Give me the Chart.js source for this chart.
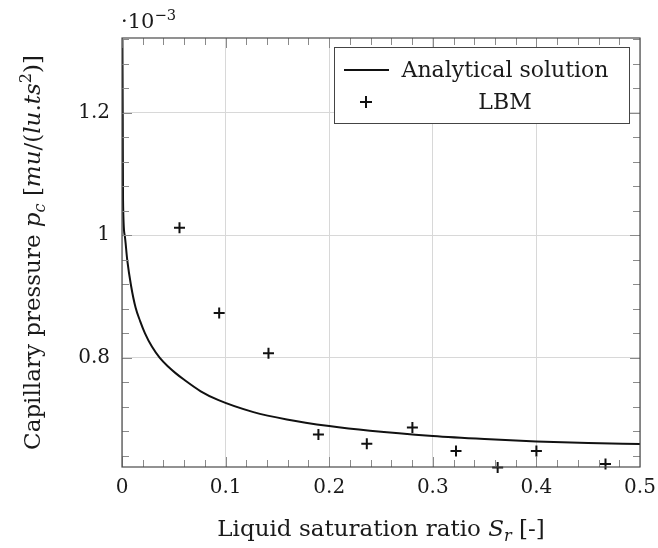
<!DOCTYPE html>
<html>
<head>
<meta charset="utf-8">
<script src="https://cdn.jsdelivr.net/npm/chart.js@4.4.1/dist/chart.umd.min.js"></script>
<style>
  html, body { margin: 0; padding: 0; background: #fff; }
  #wrap { width: 658px; height: 548px; }
</style>
</head>
<body>
<div id="wrap"><canvas id="pcChart" width="658" height="548"></canvas></div>
<script>
// Capillary pressure vs liquid saturation (values in 1e-3 units)

// Analytical solution
const curveX = [0.0004, 0.0007, 0.001, 0.0026, 0.0051, 0.0087, 0.0131, 0.0175, 0.0222, 0.029,
                0.0365, 0.045, 0.0514, 0.0594, 0.076, 0.0932, 0.1269, 0.1591, 0.2, 0.2394,
                0.3, 0.35, 0.4, 0.45, 0.5];
const curveY = [1.32, 1.2, 1.057, 1.0, 0.959, 0.918, 0.882, 0.86, 0.84, 0.818,
                0.800, 0.785, 0.7755, 0.765, 0.7455, 0.731, 0.7115, 0.6995, 0.6887, 0.681,
                0.6725, 0.6675, 0.6635, 0.661, 0.6595];

// LBM simulation results
const lbmX = [0.0555, 0.0938, 0.1414, 0.1896, 0.2363, 0.2803, 0.3224, 0.3626, 0.400, 0.4667];
const lbmY = [1.012, 0.873, 0.8077, 0.675, 0.660, 0.6865, 0.648, 0.621, 0.648, 0.627];

// axis ticks
const xTicks = [0, 0.1, 0.2, 0.3, 0.4, 0.5];
const yTicks = [0.8, 1.0, 1.2];
const xMinorStep = 0.02;
const yMinorStep = 0.04;

const serif = '"DejaVu Serif", "Liberation Serif", serif';
const fmt = v => String(Math.round(v * 10) / 10);

// draw a run of text pieces (normal / italic / sub / sup)
function richWidth(ctx, parts, size) {
    let w = 0;
    parts.forEach(p => {
        const s = p.sub || p.sup ? size * 0.7 : size;
        ctx.font = (p.it ? 'italic ' : '') + s + 'px ' + serif;
        w += ctx.measureText(p.t).width;
    });
    return w;
}
function drawRich(ctx, parts, x, y, size) {
    let cx = x;
    parts.forEach(p => {
        const s = p.sub || p.sup ? size * 0.7 : size;
        ctx.font = (p.it ? 'italic ' : '') + s + 'px ' + serif;
        let dy = 0;
        if (p.sub) dy = size * 0.22;
        if (p.sup) dy = -size * 0.4;
        ctx.fillText(p.t, cx, y + dy);
        cx += ctx.measureText(p.t).width;
    });
}

const xTitle = [
    {t: 'Liquid saturation ratio '}, {t: 'S', it: true}, {t: 'r', it: true, sub: true}, {t: ' [-]'}
];
const yTitle = [
    {t: 'Capillary pressure '}, {t: 'p', it: true}, {t: 'c', it: true, sub: true},
    {t: ' ['}, {t: 'mu', it: true}, {t: '/('}, {t: 'lu', it: true}, {t: '.'},
    {t: 'ts', it: true}, {t: '2', sup: true}, {t: ')]'}
];

const framePlugin = {
    id: 'frame',
    afterDatasetsDraw(chart) {
        const {ctx, chartArea: a, scales: {x, y}} = chart;
        ctx.save();
        // minor + major ticks, inside on all four sides
        ctx.strokeStyle = '#8a8a8a';
        ctx.lineWidth = 1;
        ctx.beginPath();
        for (let i = 0; i < xTicks.length - 1; i++) {
            for (let v = xTicks[i]; v < xTicks[i + 1] - 1e-9; v += xMinorStep) {
                const px = Math.round(x.getPixelForValue(v)) + 0.5;
                const len = Math.abs(v - xTicks[i]) < 1e-9 ? 10 : 7;
                ctx.moveTo(px, a.bottom); ctx.lineTo(px, a.bottom - len);
                ctx.moveTo(px, a.top); ctx.lineTo(px, a.top + len);
            }
        }
        for (let v = yTicks[0] - 4 * yMinorStep; v < y.max; v += yMinorStep) {
            if (v < y.min) continue;
            const py = Math.round(y.getPixelForValue(v)) + 0.5;
            const major = yTicks.some(t => Math.abs(t - v) < 1e-6);
            const len = major ? 10 : 7;
            ctx.moveTo(a.left, py); ctx.lineTo(a.left + len, py);
            ctx.moveTo(a.right, py); ctx.lineTo(a.right - len, py);
        }
        ctx.stroke();
        // axis box
        ctx.strokeStyle = '#4a4a4a';
        ctx.lineWidth = 1.2;
        ctx.strokeRect(a.left, a.top, a.right - a.left, a.bottom - a.top);
        ctx.restore();
    },
    afterDraw(chart) {
        const {ctx, chartArea: a} = chart;
        ctx.save();
        ctx.fillStyle = '#1a1a1a';
        ctx.textBaseline = 'alphabetic';

        // exponent marker
        drawRich(ctx, [{t: '\u00b710'}, {t: '\u22123', sup: true}], a.left - 1, a.top - 10, 21);

        // x title
        const xw = richWidth(ctx, xTitle, 23);
        drawRich(ctx, xTitle, (a.left + a.right) / 2 - xw / 2, 536, 23);

        // y title, rotated
        const yw = richWidth(ctx, yTitle, 23);
        ctx.save();
        ctx.translate(40, (a.top + a.bottom) / 2);
        ctx.rotate(-Math.PI / 2);
        drawRich(ctx, yTitle, -yw / 2, 0, 23);
        ctx.restore();

        // legend
        const lx = a.right - 306, ly = a.top + 9, lw = 295, lh = 76;
        ctx.fillStyle = '#fff';
        ctx.fillRect(lx, ly, lw, lh);
        ctx.strokeStyle = '#444';
        ctx.lineWidth = 1;
        ctx.strokeRect(lx + 0.5, ly + 0.5, lw, lh);
        ctx.strokeStyle = '#111';
        ctx.lineWidth = 2;
        ctx.beginPath();
        ctx.moveTo(lx + 10, ly + 23); ctx.lineTo(lx + 55, ly + 23);
        ctx.moveTo(lx + 32, ly + 49); ctx.lineTo(lx + 32, ly + 61);
        ctx.moveTo(lx + 26, ly + 55); ctx.lineTo(lx + 38, ly + 55);
        ctx.stroke();
        ctx.fillStyle = '#1a1a1a';
        ctx.font = '22px ' + serif;
        ctx.textAlign = 'center';
        ctx.fillText('Analytical solution', lx + 171, ly + 30);
        ctx.fillText('LBM', lx + 171, ly + 62);
        ctx.restore();
    }
};

const ctx = document.getElementById('pcChart');
new Chart(ctx, {
    type: 'scatter',
    data: {
        datasets: [{
            label: 'Analytical solution',
            data: curveX.map((v, i) => ({x: v, y: curveY[i]})),
            showLine: true,
            borderColor: '#111',
            borderWidth: 2,
            pointRadius: 0,
            cubicInterpolationMode: 'monotone'
        }, {
            label: 'LBM',
            data: lbmX.map((v, i) => ({x: v, y: lbmY[i]})),
            showLine: false,
            pointStyle: 'cross',
            pointRadius: 5.5,
            pointBorderWidth: 2,
            pointBorderColor: '#111',
            clip: false
        }]
    },
    options: {
        responsive: false,
        animation: false,
        devicePixelRatio: 1,
        layout: { padding: { top: 38, right: 18, left: 0, bottom: 0 } },
        plugins: {
            legend: { display: false },
            tooltip: { enabled: false }
        },
        scales: {
            x: {
                type: 'linear',
                min: 0,
                max: 0.5,
                afterBuildTicks: s => { s.ticks = xTicks.map(v => ({value: v})); },
                afterFit: s => { s.height = 81; s.paddingLeft = 0; s.paddingRight = 0; },
                ticks: {
                    callback: fmt,
                    color: '#1a1a1a',
                    font: { family: serif, size: 20 },
                    padding: 9,
                    maxRotation: 0
                },
                grid: { color: '#d8d8d8', drawTicks: false },
                border: { display: false }
            },
            y: {
                type: 'linear',
                min: 0.622,
                max: 1.3216,
                afterBuildTicks: s => { s.ticks = yTicks.map(v => ({value: v})); },
                afterFit: s => { s.width = 122; s.paddingTop = 0; s.paddingBottom = 0; },
                ticks: {
                    callback: fmt,
                    color: '#1a1a1a',
                    font: { family: serif, size: 20 },
                    padding: 12
                },
                grid: { color: '#d8d8d8', drawTicks: false },
                border: { display: false }
            }
        }
    },
    plugins: [framePlugin]
});
</script>
</body>
</html>
